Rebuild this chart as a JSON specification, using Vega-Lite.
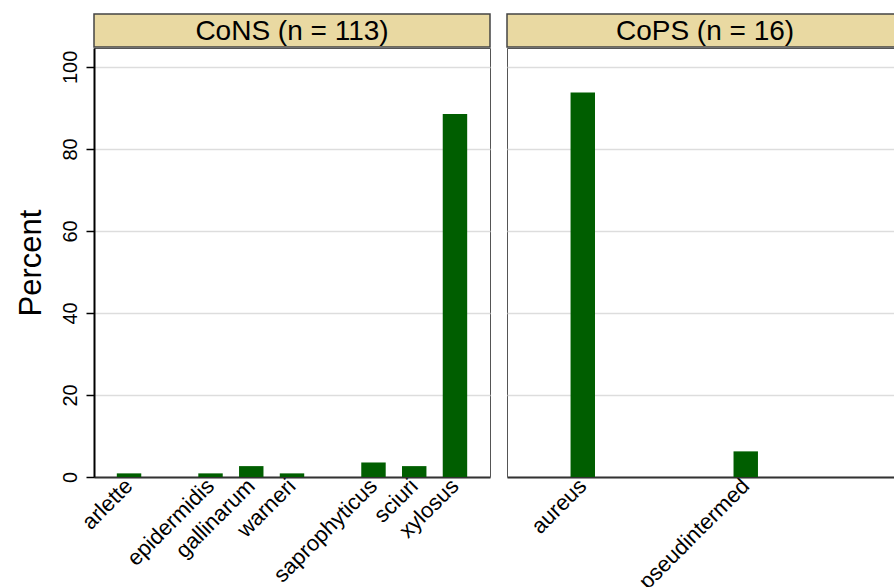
{
  "$schema": "https://vega.github.io/schema/vega-lite/v6.json",
  "padding": {"left": 14, "top": 13, "right": 0, "bottom": 0},
  "background": "white",
  "config": {
    "font": "Liberation Sans",
    "view": {"stroke": null},
    "axis": {"labelColor": "black", "titleColor": "black", "titleFontWeight": "normal"}
  },
  "datasets": {
    "bars": [
      {"group": "CoNS", "species": "arlette", "percent": 0.885},
      {"group": "CoNS", "species": "epidermidis", "percent": 0.885},
      {"group": "CoNS", "species": "gallinarum", "percent": 2.655},
      {"group": "CoNS", "species": "warneri", "percent": 0.885},
      {"group": "CoNS", "species": "saprophyticus", "percent": 3.54},
      {"group": "CoNS", "species": "sciuri", "percent": 2.655},
      {"group": "CoNS", "species": "xylosus", "percent": 88.496},
      {"group": "CoPS", "species": "aureus", "percent": 93.75},
      {"group": "CoPS", "species": "pseudintermed", "percent": 6.25}
    ]
  },
  "spacing": 15,
  "hconcat": [
    {
      "spacing": -2,
      "vconcat": [
        {
          "width": 396,
          "height": 33,
          "data": {"values": [{"title": "CoNS (n = 113)"}]},
          "view": {"fill": "#E9D9A2", "stroke": "#444", "strokeWidth": 1.5},
          "mark": {"type": "text", "fontSize": 28, "baseline": "middle", "align": "center", "color": "black", "dy": 1},
          "encoding": {"text": {"field": "title"}}
        },
        {
          "width": 396,
          "height": 429,
          "data": {"name": "bars"},
          "transform": [{"filter": "datum.group == 'CoNS'"}],
          "view": {"stroke": "#555", "strokeWidth": 1},
          "mark": {"type": "bar", "color": "#005E00"},
          "encoding": {
            "x": {
              "field": "species",
              "type": "nominal",
              "scale": {
                "domain": ["arlette", "aureus", "epidermidis", "gallinarum", "warneri", "pseudintermed", "saprophyticus", "sciuri", "xylosus"],
                "paddingInner": 0.4,
                "paddingOuter": 0.56
              },
              "axis": {
                "title": null,
                "ticks": false,
                "labelAngle": -45,
                "labelAlign": "right",
                "labelBaseline": "middle",
                "labelPadding": 5,
                "labelFontSize": 22,
                "labelOverlap": false,
                "labelLimit": 300,
                "domainColor": "#333",
                "domainWidth": 2,
                "labelExpr": "datum.value == 'aureus' || datum.value == 'pseudintermed' ? '' : datum.value"
              }
            },
            "y": {
              "field": "percent",
              "type": "quantitative",
              "scale": {"domain": [0, 104.6], "nice": false, "zero": true},
              "axis": {
                "title": "Percent",
                "titleFontSize": 31,
                "titlePadding": 13,
                "values": [0, 20, 40, 60, 80, 100],
                "labelAngle": -90,
                "labelAlign": "center",
                "labelBaseline": "bottom",
                "labelFontSize": 20,
                "labelPadding": 6,
                "tickSize": 8,
                "tickColor": "black",
                "tickWidth": 1.5,
                "domainColor": "black",
                "domainWidth": 2,
                "grid": true,
                "gridColor": "#DDDDDD",
                "gridWidth": 1.5
              }
            }
          }
        }
      ]
    },
    {
      "spacing": -2,
      "vconcat": [
        {
          "width": 396,
          "height": 33,
          "data": {"values": [{"title": "CoPS (n = 16)"}]},
          "view": {"fill": "#E9D9A2", "stroke": "#444", "strokeWidth": 1.5},
          "mark": {"type": "text", "fontSize": 28, "baseline": "middle", "align": "center", "color": "black", "dy": 1},
          "encoding": {"text": {"field": "title"}}
        },
        {
          "width": 396,
          "height": 429,
          "data": {"name": "bars"},
          "transform": [{"filter": "datum.group == 'CoPS'"}],
          "view": {"stroke": "#555", "strokeWidth": 1},
          "mark": {"type": "bar", "color": "#005E00"},
          "encoding": {
            "x": {
              "field": "species",
              "type": "nominal",
              "scale": {
                "domain": ["arlette", "aureus", "epidermidis", "gallinarum", "warneri", "pseudintermed", "saprophyticus", "sciuri", "xylosus"],
                "paddingInner": 0.4,
                "paddingOuter": 0.56
              },
              "axis": {
                "title": null,
                "ticks": false,
                "labelAngle": -45,
                "labelAlign": "right",
                "labelBaseline": "middle",
                "labelPadding": 5,
                "labelFontSize": 22,
                "labelOverlap": false,
                "labelLimit": 300,
                "domainColor": "#333",
                "domainWidth": 2,
                "labelExpr": "datum.value == 'aureus' || datum.value == 'pseudintermed' ? datum.value : ''"
              }
            },
            "y": {
              "field": "percent",
              "type": "quantitative",
              "scale": {"domain": [0, 104.6], "nice": false, "zero": true},
              "axis": {
                "title": null,
                "values": [0, 20, 40, 60, 80, 100],
                "labels": false,
                "ticks": false,
                "domain": false,
                "grid": true,
                "gridColor": "#DDDDDD",
                "gridWidth": 1.5
              }
            }
          }
        }
      ]
    }
  ]
}
